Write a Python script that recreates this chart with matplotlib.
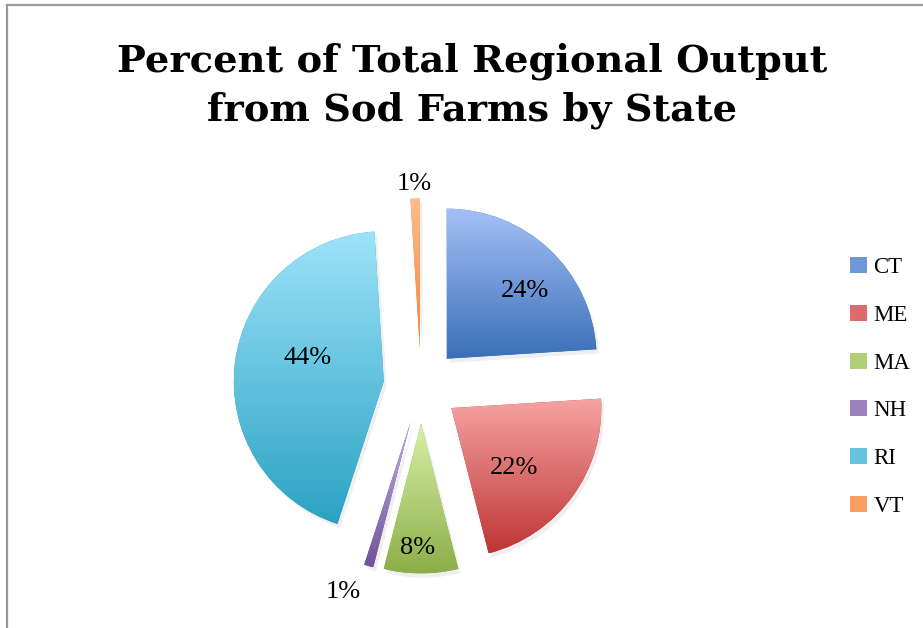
import numpy as np
import matplotlib
matplotlib.use('Agg')
import matplotlib.pyplot as plt
from matplotlib.colors import LinearSegmentedColormap, to_rgb
from matplotlib.patches import Patch
from matplotlib.lines import Line2D
import matplotlib.patheffects as pe

states = ['CT', 'ME', 'MA', 'NH', 'RI', 'VT']
percents = [24, 22, 8, 1, 44, 1]
# top / bottom colour of each slice's gradient
top_colors = ['#a3c0f5', '#f6a3a3', '#d8f0a8', '#c3b1e0', '#9de3fa', '#ffbd8e']
bottom_colors = ['#3a6fb8', '#bf3535', '#8cae48', '#70539a', '#2ba2c2', '#f08338']
# label placement: distance from slice tip (in radii) and angle nudge (deg)
label_dist = [0.69, 0.58, 0.83, 1.22, 0.53, 1.10]
label_turn = [-6, -7.6, -1.8, -5.3, -9.6, 0]

W, H = 923, 628
fig = plt.figure(figsize=(W / 100, H / 100), dpi=100)

# frame lines of the chart area
fig.add_artist(Line2D([7 / W, 1], [1 - 5 / H, 1 - 5 / H], color='#9a9a9a', lw=1.6))
fig.add_artist(Line2D([7 / W, 7 / W], [0, 1 - 5 / H], color='#9a9a9a', lw=1.6))

fig.text(472 / W, 1 - 86 / H, 'Percent of Total Regional Output\nfrom Sod Farms by State',
         ha='center', va='center', fontsize=27.6, fontweight='bold',
         family='DejaVu Serif', linespacing=1.38)

# pie axes: 1 data unit = 150 px, centre at (421, 386) px
cx, cy, R = 421, 386, 150
side = 2.5 * R
ax = fig.add_axes([(cx - side / 2) / W, (H - cy - side / 2) / H, side / W, side / H])
wedges, _ = ax.pie(percents, explode=[0.25] * len(percents), startangle=90,
                   counterclock=False, radius=1,
                   colors=bottom_colors, wedgeprops=dict(linewidth=0))

grad = np.linspace(0, 1, 256).reshape(-1, 1)
for i, w in enumerate(wedges):
    w.set_path_effects([pe.SimplePatchShadow(offset=(2, -3), shadow_rgbFace='#999999', alpha=0.15),
                        pe.Normal()])
    v = w.get_path().vertices
    x0, x1 = v[:, 0].min(), v[:, 0].max()
    y0, y1 = v[:, 1].min(), v[:, 1].max()
    cmap = LinearSegmentedColormap.from_list('g', [bottom_colors[i], top_colors[i]])
    im = ax.imshow(grad, extent=[x0, x1, y0, y1], origin='lower', cmap=cmap,
                   aspect='auto', interpolation='bilinear', zorder=3)
    im.set_clip_path(w)
    # label near the bisector of the slice
    mid = np.deg2rad((w.theta1 + w.theta2) / 2 + label_turn[i])
    tx = w.center[0] + label_dist[i] * w.r * np.cos(mid)
    ty = w.center[1] + label_dist[i] * w.r * np.sin(mid)
    ax.text(tx, ty, f'{percents[i]}%', ha='center', va='center', fontsize=19,
            family='Liberation Serif', color='black', zorder=5)

ax.set_xlim(-1.25, 1.25)
ax.set_ylim(-1.25, 1.25)
ax.set_aspect('equal')
ax.axis('off')

mid_colors = [tuple((np.array(to_rgb(a)) + np.array(to_rgb(b))) / 2)
              for a, b in zip(top_colors, bottom_colors)]
handles = [Patch(facecolor=mc, edgecolor='none') for mc in mid_colors]
leg = fig.legend(handles, states, loc='center left',
                 bbox_to_anchor=(850 / W, 1 - 387 / H), frameon=False,
                 prop={'family': 'Liberation Serif', 'size': 16.5},
                 handlelength=0.72, handleheight=0.7, handletextpad=0.3,
                 labelspacing=1.17, borderpad=0, borderaxespad=0)

fig.savefig('out.png', dpi=100)
